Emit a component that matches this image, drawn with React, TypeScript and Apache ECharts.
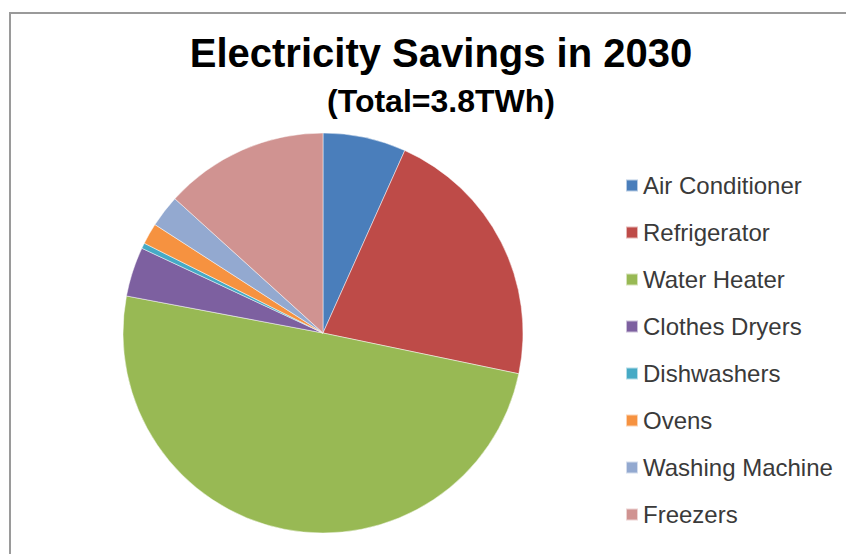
import React, { useEffect, useRef } from "react";
import * as echarts from "echarts";

// Electricity savings in 2030 by appliance (TWh), total 3.8 TWh
const categories = [
  "Air Conditioner",
  "Refrigerator",
  "Water Heater",
  "Clothes Dryers",
  "Dishwashers",
  "Ovens",
  "Washing Machine",
  "Freezers",
];
const savingsTWh = [0.255, 0.82, 1.89, 0.152, 0.017, 0.065, 0.099, 0.505];
const colors = [
  "#4A7EBB",
  "#BE4B48",
  "#98B954",
  "#7D60A0",
  "#46AAC5",
  "#F69240",
  "#93A9D0",
  "#D09391",
];
const titleText = "Electricity Savings in 2030";
const subtitleText = "(Total=3.8TWh)";

export default function App() {
  const ref = useRef<HTMLDivElement>(null);

  useEffect(() => {
    if (!ref.current) return;
    const chart = echarts.init(ref.current, undefined, { renderer: "svg" });
    chart.setOption({
      animation: false,
      backgroundColor: "#ffffff",
      color: colors,
      title: [
        {
          text: titleText,
          left: 436,
          textAlign: "center",
          top: 28,
          textStyle: {
            fontFamily: "Liberation Sans",
            fontWeight: "bold",
            fontSize: 40,
            color: "#000000",
          },
        },
        {
          text: subtitleText,
          left: 436,
          textAlign: "center",
          top: 80,
          textStyle: {
            fontFamily: "Liberation Sans",
            fontWeight: "bold",
            fontSize: 32,
            color: "#000000",
          },
        },
      ],
      legend: {
        orient: "vertical",
        left: 620,
        top: 168,
        icon: "rect",
        itemWidth: 12,
        itemHeight: 12,
        itemGap: 22,
        selectedMode: false,
        data: categories,
        textStyle: {
          fontFamily: "Liberation Sans",
          fontSize: 24,
          lineHeight: 25,
          color: "#3a3a3a",
        },
      },
      graphic: [
        {
          type: "rect",
          shape: { x: 10, y: 13, width: 900, height: 600 },
          style: { fill: "none", stroke: "#9a9a9a", lineWidth: 2 },
          silent: true,
        },
      ],
      series: [
        {
          type: "pie",
          center: [323, 333],
          radius: 200,
          startAngle: 90,
          clockwise: true,
          label: { show: false },
          labelLine: { show: false },
          emphasis: { disabled: true },
          itemStyle: { borderColor: "rgba(255,255,255,0.6)", borderWidth: 0.8 },
          data: categories.map((name, i) => ({ name, value: savingsTWh[i] })),
        },
      ],
    });
    return () => chart.dispose();
  }, []);

  return (
    <div
      ref={ref}
      style={{ position: "fixed", left: 0, top: 0, width: 846, height: 554 }}
    />
  );
}
